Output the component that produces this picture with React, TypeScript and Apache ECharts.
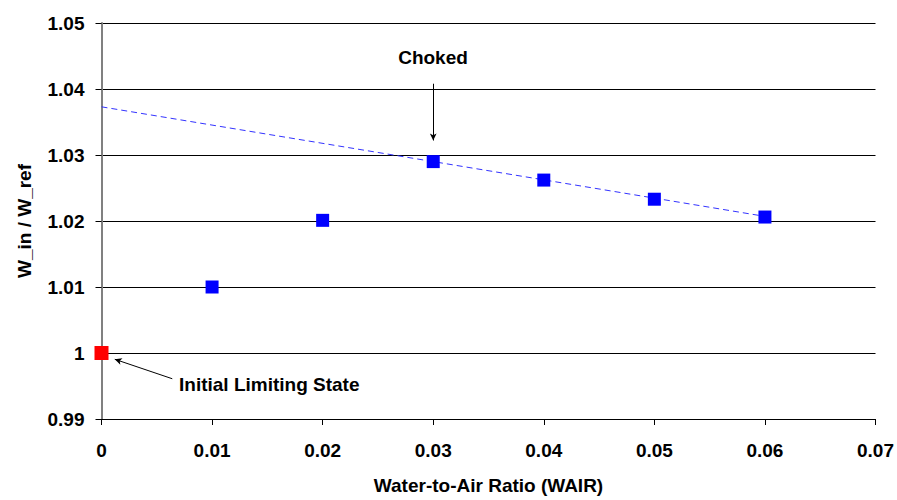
import React, { useEffect, useRef } from "react";
import * as echarts from "echarts";

const wairValues = [0.01, 0.02, 0.03, 0.04, 0.05, 0.06];
const flowRatios = [1.01, 1.0201, 1.029, 1.0262, 1.0233, 1.0206];
const initialState = [[0, 1.0]];
const trendX = [0, 0.06];
const trendY = [1.0373, 1.0207];
const chokedArrow = [[0.03, 1.0408], [0.03, 1.0322]];
const initialArrow = [[0.0064, 0.9961], [0.0012, 0.99905]];

const fmt = (v: number) => String(parseFloat(Number(v).toFixed(3)));

export default function App() {
  const ref = useRef<HTMLDivElement>(null);
  useEffect(() => {
    if (!ref.current) return;
    const chart = echarts.init(ref.current, null, { renderer: "svg" });
    const font = "Liberation Sans, Arial, sans-serif";
    const fs = 19;
    chart.setOption({
      animation: false,
      backgroundColor: "#ffffff",
      grid: { left: 101.5, right: 21, top: 23, bottom: 77 },
      xAxis: {
        type: "value",
        min: 0,
        max: 0.07,
        interval: 0.01,
        name: "Water-to-Air Ratio (WAIR)",
        nameLocation: "middle",
        nameGap: 57,
        nameTextStyle: { fontFamily: font, fontWeight: "bold", fontSize: fs, color: "#000" },
        axisLine: { show: true, onZero: false, lineStyle: { color: "#000", width: 1 } },
        axisTick: { show: true, length: 6, inside: false, lineStyle: { color: "#000" } },
        axisLabel: { formatter: fmt, fontFamily: font, fontWeight: "bold", fontSize: fs, color: "#000", margin: 22 },
        splitLine: { show: false },
      },
      yAxis: {
        type: "value",
        min: 0.99,
        max: 1.05,
        interval: 0.01,
        name: "W_in / W_ref",
        nameLocation: "middle",
        nameGap: 68,
        nameTextStyle: { fontFamily: font, fontWeight: "bold", fontSize: fs, color: "#000" },
        axisLine: { show: true, lineStyle: { color: "#808080", width: 2 } },
        axisTick: { show: true, length: 6, lineStyle: { color: "#000" } },
        axisLabel: { formatter: fmt, fontFamily: font, fontWeight: "bold", fontSize: fs, color: "#000", margin: 17 },
        splitLine: { show: true, lineStyle: { color: "#000", width: 1 } },
      },
      series: [
        {
          type: "line",
          data: trendX.map((x, i) => [x, trendY[i]]),
          symbol: "none",
          lineStyle: { color: "#3333ff", width: 1, type: [6, 4] },
          z: 2,
          markLine: {
            silent: true,
            symbol: ["none", "arrow"],
            symbolSize: [5, 7],
            label: { show: false },
            lineStyle: { color: "#000", width: 1, type: "solid" },
            data: [
              [{ coord: chokedArrow[0] }, { coord: chokedArrow[1] }],
              [{ coord: initialArrow[0] }, { coord: initialArrow[1] }],
            ],
          },
        },
        {
          type: "scatter",
          data: wairValues.map((x, i) => [x, flowRatios[i]]),
          symbol: "rect",
          symbolSize: 13,
          itemStyle: { color: "#0000ff", opacity: 1 },
          z: 3,
        },
        {
          type: "scatter",
          data: initialState,
          symbol: "rect",
          symbolSize: 14,
          itemStyle: { color: "#ff0000", opacity: 1 },
          z: 4,
        },
      ],
      graphic: [
        {
          type: "text",
          x: 433,
          y: 57,
          style: {
            text: "Choked",
            fontFamily: font,
            fontWeight: "bold",
            fontSize: fs,
            fill: "#000",
            textAlign: "center",
            textVerticalAlign: "middle",
          },
        },
        {
          type: "text",
          x: 179,
          y: 384,
          style: {
            text: "Initial Limiting State",
            fontFamily: font,
            fontWeight: "bold",
            fontSize: fs,
            fill: "#000",
            textAlign: "left",
            textVerticalAlign: "middle",
          },
        },
      ],
    });
    return () => chart.dispose();
  }, []);
  return <div ref={ref} style={{ width: 897, height: 500, position: "absolute", left: 0, top: 0 }} />;
}
